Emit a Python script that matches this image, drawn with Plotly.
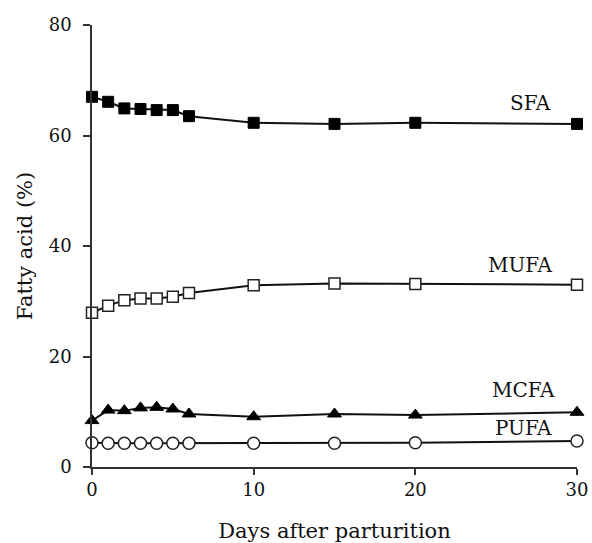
import plotly.graph_objects as go

days = [0, 1, 2, 3, 4, 5, 6, 10, 15, 20, 30]
sfa = [67.0, 66.1, 64.9, 64.8, 64.6, 64.6, 63.5, 62.3, 62.1, 62.3, 62.1]
mufa = [27.9, 29.2, 30.2, 30.5, 30.5, 30.8, 31.5, 32.9, 33.2, 33.1, 33.0]
mcfa = [8.4, 10.3, 10.2, 10.7, 10.8, 10.5, 9.6, 9.1, 9.6, 9.4, 9.9]
pufa = [4.4, 4.3, 4.3, 4.3, 4.3, 4.3, 4.3, 4.3, 4.3, 4.4, 4.7]

series_names = ["SFA", "MUFA", "MCFA", "PUFA"]
label_x = [27.1, 26.5, 26.7, 26.7]
label_y = [65.9, 36.6, 13.9, 7.1]

x_ticks = [0, 10, 20, 30]
y_ticks = [0, 20, 40, 60, 80]

FONT = "DejaVu Serif"
LINE = "#111111"

fig = go.Figure()
styles = [
    dict(symbol="square", size=11, color="#000000", line=dict(color="#000000", width=1)),
    dict(symbol="square", size=11, color="#ffffff", line=dict(color="#222222", width=1.5)),
    dict(symbol="triangle-up", size=12, color="#000000", line=dict(color="#000000", width=1)),
    dict(symbol="circle", size=12, color="#ffffff", line=dict(color="#222222", width=1.5)),
]
for name, vals, st in zip(series_names, [sfa, mufa, mcfa, pufa], styles):
    fig.add_trace(go.Scatter(
        x=days, y=vals, mode="lines+markers", name=name,
        line=dict(color=LINE, width=2),
        marker=st, cliponaxis=False, showlegend=False,
    ))

for name, lx, ly in zip(series_names, label_x, label_y):
    fig.add_annotation(x=lx, y=ly, text=name, showarrow=False,
                       font=dict(family=FONT, size=20, color="#111111"),
                       xanchor="center", yanchor="middle")

fig.update_layout(
    width=592, height=543,
    margin=dict(l=92, r=15, t=25, b=76),
    paper_bgcolor="white", plot_bgcolor="white",
    font=dict(family=FONT, size=18, color="#111111"),
)
fig.update_xaxes(
    range=[0, 30], tickvals=x_ticks, ticks="outside", ticklen=6, tickwidth=1.5,
    tickcolor="#333333", showline=True, linecolor="#333333", linewidth=1.5,
    showgrid=False, zeroline=False, automargin=False,
    title=dict(text="Days after parturition", font=dict(family=FONT, size=21), standoff=27),
    tickfont=dict(family=FONT, size=18),
)
fig.update_yaxes(
    range=[0, 80], tickvals=y_ticks, ticks="outside", ticklen=7, tickwidth=1.5,
    tickcolor="#333333", showline=True, linecolor="#333333", linewidth=1.5,
    showgrid=False, zeroline=False, automargin=False, ticklabelstandoff=8,
    title=dict(text="Fatty acid (%)", font=dict(family=FONT, size=21), standoff=10),
    tickfont=dict(family=FONT, size=18),
)

# remove the page's default body margin so the 592x543 figure fills the window
fig.write_html(
    "out.html",
    config={"displayModeBar": False},
    post_script="document.body.style.margin='0';document.documentElement.style.overflow='hidden';",
)
